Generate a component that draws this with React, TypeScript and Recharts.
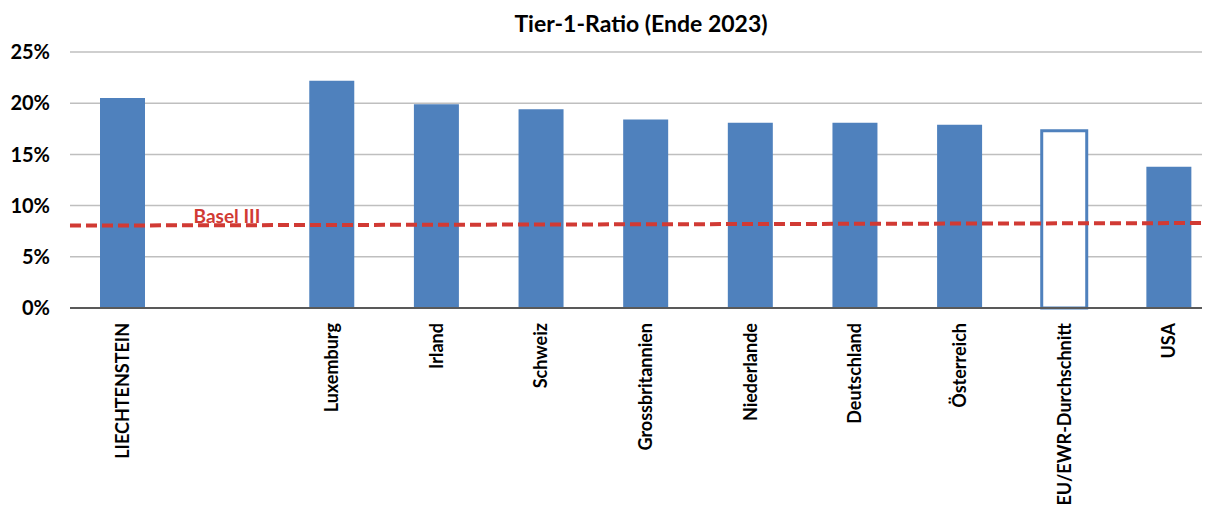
import React from "react";
import { ComposedChart, Bar, XAxis, YAxis, CartesianGrid, Cell, ReferenceLine, ReferenceDot } from "recharts";

const categories = ["LIECHTENSTEIN", " ", "Luxemburg", "Irland", "Schweiz", "Grossbritannien", "Niederlande", "Deutschland", "Österreich", "EU/EWR-Durchschnitt", "USA"];
const tier1 = [20.5, null, 22.2, 19.9, 19.4, 18.4, 18.1, 18.1, 17.9, 17.3, 13.8];
const hollow = ["EU/EWR-Durchschnitt"];
const baselEnds = [8.05, 8.3];
const yTicks = [0, 5, 10, 15, 20, 25];

const data = categories.map((c, i) => ({ name: c, value: tier1[i] }));
const lastIdx = categories.length - 1;

const FONT = "Lato, 'Open Sans', sans-serif";
const BLUE = "#4F81BD";
const RED = "#D13A34";

const XTick = (props: any) => {
  const { x, y, payload } = props;
  return (
    <text
      x={x}
      y={y}
      transform={`rotate(-90, ${x}, ${y})`}
      textAnchor="end"
      dy="0.36em"
      fontFamily={FONT}
      fontWeight={700}
      fontSize={18}
      fill="#000"
    >
      {payload.value}
    </text>
  );
};

export default function App() {
  return (
    <div style={{ position: "relative", width: 1202, height: 505, overflow: "hidden" }}>
      <div
        style={{
          position: "absolute",
          top: 1,
          left: 0,
          width: 1266,
          textAlign: "center",
          fontFamily: FONT,
          fontWeight: 700,
          fontSize: 23,
          color: "#000",
        }}
      >
        Tier-1-Ratio (Ende 2023)
      </div>
      <ComposedChart
        width={1215}
        height={505}
        data={data}
        margin={{ top: 44, right: 2, left: 0, bottom: 0 }}
      >
        <CartesianGrid vertical={false} stroke="#BFBFBF" strokeWidth={1.5} />
        <XAxis
          dataKey="name"
          interval={0}
          height={205}
          tick={<XTick />}
          tickLine={false}
          tickSize={0}
          tickMargin={15}
          axisLine={{ stroke: "#595959", strokeWidth: 2 }}
        />
        <XAxis xAxisId="b" type="number" domain={[0, lastIdx]} allowDataOverflow hide />
        <YAxis
          domain={[0, 25]}
          ticks={yTicks}
          width={62}
          tickFormatter={(v: number) => `${v}%`}
          tick={{ fontFamily: FONT, fontWeight: 700, fontSize: 20, fill: "#000" }}
          tickLine={false}
          axisLine={false}
          tickSize={0}
          tickMargin={20}
        />
        <Bar dataKey="value" barSize={45} fill={BLUE} isAnimationActive={false}>
          {data.map((d, i) => (
            <Cell
              key={i}
              fill={hollow.includes(d.name) ? "#FFFFFF" : BLUE}
              stroke={BLUE}
              strokeWidth={hollow.includes(d.name) ? 3 : 0}
            />
          ))}
        </Bar>
        <ReferenceLine
          xAxisId="b"
          segment={[{ x: 0, y: baselEnds[0] }, { x: lastIdx, y: baselEnds[1] }]}
          stroke={RED}
          strokeWidth={4}
          strokeDasharray="11 5"
          ifOverflow="visible"
        />
        <ReferenceDot
          x=" "
          y={baselEnds[0]}
          r={0}
          fill="none"
          stroke="none"
          ifOverflow="visible"
          label={{ value: "Basel III", position: "top", offset: 3, fill: RED, fontFamily: FONT, fontWeight: 700, fontSize: 19 }}
        />
      </ComposedChart>
    </div>
  );
}
